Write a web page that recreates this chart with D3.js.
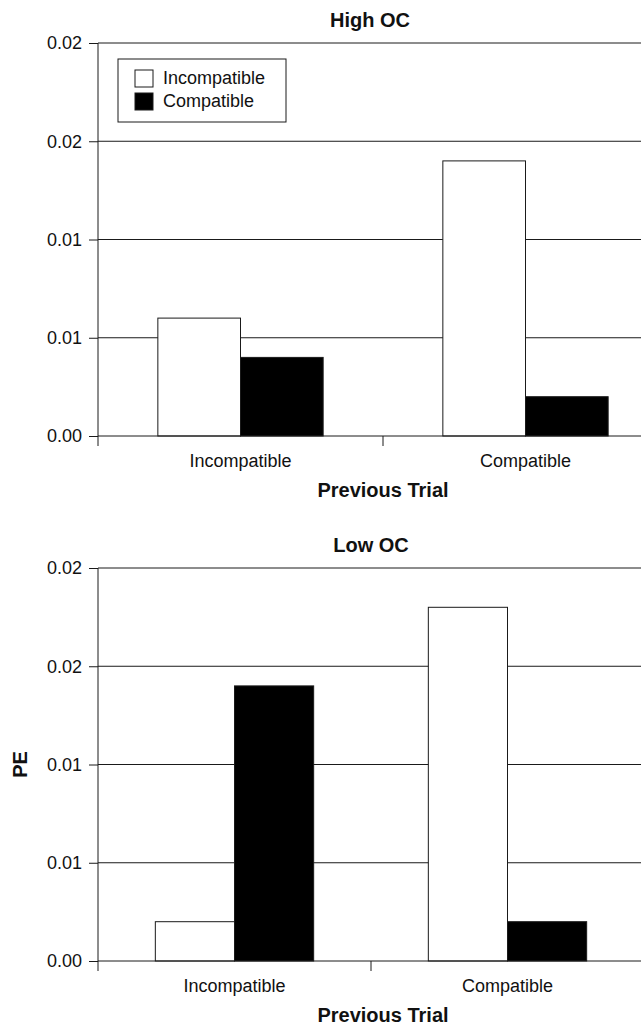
<!DOCTYPE html>
<html>
<head>
<meta charset="utf-8">
<script src="https://cdn.jsdelivr.net/npm/d3@7"></script>
<style>
  body { margin: 0; background: #fff; }
  text { font-family: 'Liberation Sans', Arial, sans-serif; fill: #111; }
  .title { font-weight: bold; font-size: 20px; }
  .tickLabel { font-size: 18px; }
</style>
</head>
<body>
<div class="canvas"></div>
<script>
// data
const prevTrial = ['Incompatible', 'Compatible'];
const currTrial = ['Incompatible', 'Compatible'];
const highOC = [[0.006, 0.004], [0.014, 0.002]];
const lowOC = [[0.002, 0.014], [0.018, 0.002]];
const yTicks = [0, 0.005, 0.01, 0.015, 0.02];
const yTickLabels = ['0.00', '0.01', '0.01', '0.02', '0.02'];

const dims = { width: 641, height: 1025, stroke: '#1a1a1a' };
const colour = d3.scaleOrdinal(currTrial, ['#fff', '#000']);

const svg = d3.select('.canvas')
    .append('svg')
    .attr('width', dims.width)
    .attr('height', dims.height);

const drawPanel = (p) => {
    const g = svg.append('g').attr('transform', `translate(${p.left}, ${p.top})`);

    const x0 = d3.scaleBand().domain(prevTrial).range([0, p.w]).paddingInner(0.42).paddingOuter(0.21);
    const x1 = d3.scaleBand().domain(currTrial).range([0, x0.bandwidth()]);
    const y = d3.scaleLinear().domain([0, 0.02]).range([p.h, 0]);

    // grid lines
    g.selectAll('.grid').data(yTicks.slice(1))
        .enter().append('line')
        .attr('x1', 0).attr('x2', p.w)
        .attr('y1', d => y(d)).attr('y2', d => y(d))
        .attr('stroke', dims.stroke).attr('stroke-width', 1);

    // bars
    const groups = g.selectAll('.group').data(p.values)
        .enter().append('g')
        .attr('transform', (d, i) => `translate(${x0(prevTrial[i])}, 0)`);

    groups.selectAll('rect').data(d => d.map((v, j) => ({ key: currTrial[j], value: v })))
        .enter().append('rect')
        .attr('x', d => x1(d.key))
        .attr('y', d => y(d.value))
        .attr('width', x1.bandwidth())
        .attr('height', d => p.h - y(d.value))
        .attr('fill', d => colour(d.key))
        .attr('stroke', dims.stroke).attr('stroke-width', 1);

    // y axis
    const yAxis = g.append('g')
        .call(d3.axisLeft(y).tickValues(yTicks).tickSize(9).tickPadding(7)
            .tickFormat((d, i) => yTickLabels[i]));
    yAxis.select('.domain').attr('stroke', dims.stroke).attr('d', `M0,0V${p.h}`);
    yAxis.selectAll('.tick line').attr('stroke', dims.stroke);
    yAxis.selectAll('text').attr('class', 'tickLabel').attr('fill', '#111')
        .style('font-family', "'Liberation Sans', Arial, sans-serif");

    // x axis
    const xg = g.append('g').attr('transform', `translate(0, ${p.h})`);
    xg.append('line').attr('x1', 0).attr('x2', p.w).attr('stroke', dims.stroke);
    xg.selectAll('.xtick').data(d3.range(prevTrial.length + 1))
        .enter().append('line')
        .attr('x1', i => i * x0.step()).attr('x2', i => i * x0.step())
        .attr('y1', 0).attr('y2', 10)
        .attr('stroke', dims.stroke);
    xg.selectAll('.xlabel').data(prevTrial)
        .enter().append('text')
        .attr('class', 'tickLabel')
        .attr('x', d => x0(d) + x0.bandwidth() / 2)
        .attr('y', 31)
        .attr('text-anchor', 'middle')
        .text(d => d);

    g.append('text').attr('class', 'title')
        .attr('x', p.titleX - p.left).attr('y', -16)
        .attr('text-anchor', 'middle').text(p.title);

    g.append('text').attr('class', 'title')
        .attr('x', p.axisTitleX - p.left).attr('y', p.h + 61)
        .attr('text-anchor', 'middle').text('Previous Trial');

    return g;
};

const topPanel = drawPanel({ left: 98, top: 43, w: 570, h: 393, values: highOC, title: 'High OC', titleX: 370, axisTitleX: 383 });
const bottomPanel = drawPanel({ left: 98, top: 568, w: 546, h: 393, values: lowOC, title: 'Low OC', titleX: 371, axisTitleX: 383 });

// y axis title (bottom panel only)
bottomPanel.append('text').attr('class', 'title')
    .attr('transform', `translate(-71, ${393 / 2}) rotate(-90)`)
    .attr('text-anchor', 'middle').text('PE');

// legend
const legend = topPanel.append('g').attr('transform', 'translate(20, 16)');
legend.append('rect')
    .attr('width', 168).attr('height', 63)
    .attr('fill', '#fff').attr('stroke', dims.stroke);
const items = legend.selectAll('.item').data(currTrial)
    .enter().append('g')
    .attr('transform', (d, i) => `translate(17, ${11 + i * 23})`);
items.append('rect')
    .attr('width', 18).attr('height', 17)
    .attr('fill', d => colour(d)).attr('stroke', dims.stroke);
items.append('text')
    .attr('class', 'tickLabel')
    .attr('x', 28).attr('y', 14)
    .text(d => d);
</script>
</body>
</html>
